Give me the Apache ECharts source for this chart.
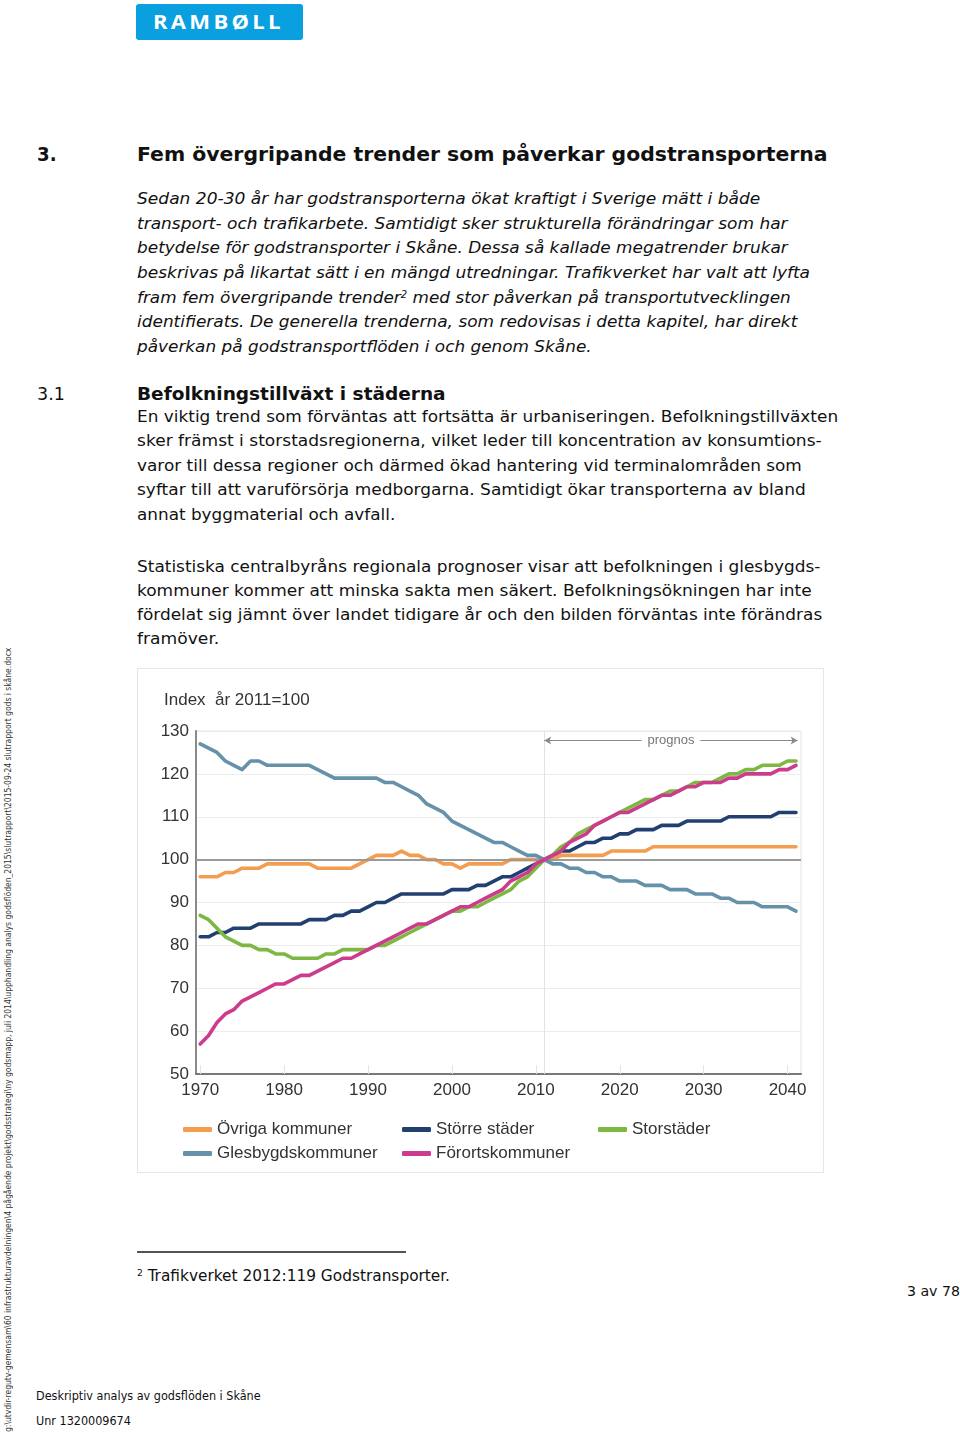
<!DOCTYPE html>
<html><head><meta charset="utf-8">
<script src="https://cdn.jsdelivr.net/npm/echarts@6/dist/echarts.min.js"></script>
<style>
html,body{margin:0;padding:0;background:#fff;}
body{width:960px;height:1435px;position:relative;overflow:hidden;font-family:"DejaVu Sans",Verdana,sans-serif;color:#111;}
.ln{position:absolute;white-space:nowrap;line-height:1;transform-origin:0 0;}
.b{font-weight:bold;}
.i{font-style:italic;}
.logo{position:absolute;left:136px;top:4px;width:167px;height:36px;background:#0a9fdf;border-radius:3px;}
.logo span{position:absolute;left:17px;top:8px;color:#fff;font-family:"Open Sans","DejaVu Sans",sans-serif;font-weight:700;font-size:20px;letter-spacing:3px;line-height:1;white-space:nowrap;transform-origin:0 0;}
#box{position:absolute;left:137px;top:668px;width:687px;height:505px;border:1px solid #e6e6e6;box-sizing:border-box;}
#chart{position:absolute;left:137px;top:668px;width:687px;height:505px;}
.rule{position:absolute;left:137px;top:1251px;width:269px;height:2px;background:#555;}
.vert{position:absolute;left:2px;top:1432px;transform-origin:0 0;transform:rotate(-90deg);}
.vert span{display:block;white-space:nowrap;font-size:9px;line-height:12px;color:#333;transform-origin:0 0;font-family:"DejaVu Sans Condensed","DejaVu Sans",sans-serif;}
.cond{font-family:"DejaVu Sans Condensed","DejaVu Sans",sans-serif;font-stretch:condensed;}
</style></head><body>

<div class="logo"><span data-w="131">RAMBØLL</span></div>

<div class="ln b" style="left:37px;top:144px;font-size:20px" data-w="20">3.</div>
<div class="ln b" style="left:137px;top:144px;font-size:20px" data-w="691">Fem övergripande trender som påverkar godstransporterna</div>

<div class="ln i" style="left:137px;top:191px;font-size:16.5px" data-w="623">Sedan 20-30 år har godstransporterna ökat kraftigt i Sverige mätt i både</div>
<div class="ln i" style="left:137px;top:216px;font-size:16.5px" data-w="651">transport- och trafikarbete. Samtidigt sker strukturella förändringar som har</div>
<div class="ln i" style="left:137px;top:240px;font-size:16.5px" data-w="651">betydelse för godstransporter i Skåne. Dessa så kallade megatrender brukar</div>
<div class="ln i" style="left:137px;top:265px;font-size:16.5px" data-w="673">beskrivas på likartat sätt i en mängd utredningar. Trafikverket har valt att lyfta</div>
<div class="ln i" style="left:137px;top:290px;font-size:16.5px" data-w="654">fram fem övergripande trender<sup style="font-size:0.6em;vertical-align:0.55em;line-height:0">2</sup> med stor påverkan på transportutvecklingen</div>
<div class="ln i" style="left:137px;top:314px;font-size:16.5px" data-w="660">identifierats. De generella trenderna, som redovisas i detta kapitel, har direkt</div>
<div class="ln i" style="left:137px;top:339px;font-size:16.5px" data-w="455">påverkan på godstransportflöden i och genom Skåne.</div>

<div class="ln" style="left:37px;top:386px;font-size:17.5px" data-w="28">3.1</div>
<div class="ln b" style="left:137px;top:386px;font-size:17.5px" data-w="309">Befolkningstillväxt i städerna</div>

<div class="ln" style="left:137px;top:409px;font-size:16.5px" data-w="701">En viktig trend som förväntas att fortsätta är urbaniseringen. Befolkningstillväxten</div>
<div class="ln" style="left:137px;top:433px;font-size:16.5px" data-w="685">sker främst i storstadsregionerna, vilket leder till koncentration av konsumtions-</div>
<div class="ln" style="left:137px;top:458px;font-size:16.5px" data-w="665">varor till dessa regioner och därmed ökad hantering vid terminalområden som</div>
<div class="ln" style="left:137px;top:482px;font-size:16.5px" data-w="669">syftar till att varuförsörja medborgarna. Samtidigt ökar transporterna av bland</div>
<div class="ln" style="left:137px;top:507px;font-size:16.5px" data-w="258">annat byggmaterial och avfall.</div>

<div class="ln" style="left:137px;top:559px;font-size:16.5px" data-w="683">Statistiska centralbyråns regionala prognoser visar att befolkningen i glesbygds-</div>
<div class="ln" style="left:137px;top:583px;font-size:16.5px" data-w="675">kommuner kommer att minska sakta men säkert. Befolkningsökningen har inte</div>
<div class="ln" style="left:137px;top:607px;font-size:16.5px" data-w="685">fördelat sig jämnt över landet tidigare år och den bilden förväntas inte förändras</div>
<div class="ln" style="left:137px;top:631px;font-size:16.5px" data-w="82">framöver.</div>

<div id="box"></div>
<div id="chart"></div>

<div class="rule"></div>
<div class="ln cond" style="left:137px;top:1269px;font-size:15px" data-w="313"><sup style="font-size:0.6em;vertical-align:0.6em;line-height:0">2</sup> Trafikverket 2012:119 Godstransporter.</div>
<div class="ln cond" style="left:907px;top:1284px;font-size:14.5px" data-w="53">3 av 78</div>
<div class="ln cond" style="left:36px;top:1389px;font-size:13px" data-w="225">Deskriptiv analys av godsflöden i Skåne</div>
<div class="ln cond" style="left:36px;top:1414px;font-size:13px" data-w="95">Unr 1320009674</div>

<div class="vert"><span data-w="784">g:\utvdir-regutv-gemensam\60 infrastrukturavdelningen\4 pågående projekt\godsstrategi\ny godsmapp, juli 2014\upphandling analys godsflöden_2015\slutrapport\2015-09-24 slutrapport gods i skåne.docx</span></div>

<script>
// ---- chart data ----
const years = [
  1970,1971,1972,1973,1974,1975,1976,1977,1978,1979,
  1980,1981,1982,1983,1984,1985,1986,1987,1988,1989,
  1990,1991,1992,1993,1994,1995,1996,1997,1998,1999,
  2000,2001,2002,2003,2004,2005,2006,2007,2008,2009,
  2010,2011,2012,2013,2014,2015,2016,2017,2018,2019,
  2020,2021,2022,2023,2024,2025,2026,2027,2028,2029,
  2030,2031,2032,2033,2034,2035,2036,2037,2038,2039,
  2040,2041
];
const xTickLabels = [1970,1980,1990,2000,2010,2020,2030,2040];
const seriesNames = ['Övriga kommuner','Större städer','Storstäder','Glesbygdskommuner','Förortskommuner'];
const ovrigaKommuner = [
  96,96,96,97,97,98,98,98,99,99,
  99,99,99,99,98,98,98,98,98,99,
  100,101,101,101,102,101,101,100,100,99,
  99,98,99,99,99,99,99,100,100,100,
  100,100,100,101,101,101,101,101,101,102,
  102,102,102,102,103,103,103,103,103,103,
  103,103,103,103,103,103,103,103,103,103,
  103,103
];
const storreStader = [
  82,82,83,83,84,84,84,85,85,85,
  85,85,85,86,86,86,87,87,88,88,
  89,90,90,91,92,92,92,92,92,92,
  93,93,93,94,94,95,96,96,97,98,
  99,100,101,102,102,103,104,104,105,105,
  106,106,107,107,107,108,108,108,109,109,
  109,109,109,110,110,110,110,110,110,111,
  111,111
];
const storstader = [
  87,86,84,82,81,80,80,79,79,78,
  78,77,77,77,77,78,78,79,79,79,
  79,80,80,81,82,83,84,85,86,87,
  88,88,89,89,90,91,92,93,95,96,
  98,100,101,103,104,106,107,108,109,110,
  111,112,113,114,114,115,116,116,117,118,
  118,118,119,120,120,121,121,122,122,122,
  123,123
];
const glesbygdskommuner = [
  127,126,125,123,122,121,123,123,122,122,
  122,122,122,122,121,120,119,119,119,119,
  119,119,118,118,117,116,115,113,112,111,
  109,108,107,106,105,104,104,103,102,101,
  101,100,99,99,98,98,97,97,96,96,
  95,95,95,94,94,94,93,93,93,92,
  92,92,91,91,90,90,90,89,89,89,
  89,88
];
const fororts = [
  57,59,62,64,65,67,68,69,70,71,
  71,72,73,73,74,75,76,77,77,78,
  79,80,81,82,83,84,85,85,86,87,
  88,89,89,90,91,92,93,95,96,97,
  99,100,101,102,104,105,106,108,109,110,
  111,111,112,113,114,115,115,116,117,117,
  118,118,118,119,119,120,120,120,120,121,
  121,122
];
const yTitle = 'Index  år 2011=100';
const prognosLabel = 'prognos';
const prognosStart = 2011;

// ---- styles ----
const colors = ['#f39d4f','#213f6f','#7db843','#6591a9','#cd3b8d'];
const font = '"Liberation Sans", Arial, sans-serif';
const values = [ovrigaKommuner, storreStader, storstader, glesbygdskommuner, fororts];

const series = seriesNames.map((name, k) => ({
  name, type: 'line', showSymbol: false, symbol: 'none',
  data: years.map((y, i) => [y, values[k][i]]),
  lineStyle: { width: 3.6, color: colors[k], cap: 'round', join: 'round' },
  itemStyle: { color: colors[k] },
  z: 3 + k
}));

const arrowStyle = { color: '#8a8a8a', width: 1, type: 'solid' };
series[0].markLine = {
  silent: true, symbol: 'none', animation: false,
  label: { show: false },
  data: [
    { yAxis: 100, lineStyle: { color: '#9a9a9a', width: 2, type: 'solid' } },
    { xAxis: prognosStart, lineStyle: { color: '#e2e2e2', width: 1, type: 'solid' } },
    [ { coord: [prognosStart, 127.8], symbol: 'arrow', symbolSize: [6, 7], lineStyle: arrowStyle },
      { coord: [2022.6, 127.8], symbol: 'none' } ],
    [ { coord: [2029.6, 127.8], symbol: 'none', lineStyle: arrowStyle },
      { coord: [2041.2, 127.8], symbol: 'arrow', symbolSize: [6, 7] } ]
  ]
};
series[0].markPoint = {
  silent: true, animation: false,
  data: [{ coord: [2026.1, 127.8], symbol: 'circle', symbolSize: 1,
    itemStyle: { color: 'rgba(0,0,0,0)' },
    label: { show: true, formatter: prognosLabel, position: 'inside', color: '#777', fontSize: 13, fontFamily: font } }]
};

const legendCommon = {
  orient: 'vertical', icon: 'roundRect', itemWidth: 29, itemHeight: 5, itemGap: 7,
  top: 448, selectedMode: false,
  textStyle: { fontSize: 17, color: '#333', fontFamily: font }
};

const chart = echarts.init(document.getElementById('chart'));
chart.setOption({
  animation: false,
  textStyle: { fontFamily: font },
  title: { text: yTitle, left: 22, top: 19, textStyle: { fontSize: 17, fontWeight: 'normal', color: '#333', fontFamily: font } },
  grid: { left: 59, right: 23, top: 63, bottom: 99, show: true, borderColor: '#e2e2e2', borderWidth: 1, containLabel: false },
  xAxis: {
    type: 'value', min: 1969.5, max: 2041.6,
    axisLine: { lineStyle: { color: '#7a7a7a', width: 2 } },
    axisTick: { show: true, inside: true, length: 9, customValues: xTickLabels, lineStyle: { color: '#e4e4e4', width: 1 } },
    axisLabel: { customValues: xTickLabels, fontSize: 17, color: '#333', margin: 8, fontFamily: font, formatter: v => String(v) },
    splitLine: { show: false }
  },
  yAxis: {
    type: 'value', min: 50, max: 130, interval: 10,
    axisLine: { show: true, lineStyle: { color: '#8a8a8a', width: 2 } },
    axisTick: { show: false },
    axisLabel: { fontSize: 17, color: '#333', margin: 7, fontFamily: font },
    splitLine: { lineStyle: { color: '#ececec', width: 1 } }
  },
  legend: [
    Object.assign({}, legendCommon, { left: 41, data: [seriesNames[0], seriesNames[3]] }),
    Object.assign({}, legendCommon, { left: 260, data: [seriesNames[1], seriesNames[4]] }),
    Object.assign({}, legendCommon, { left: 456, data: [seriesNames[2]] })
  ],
  series
});

// ---- fit text lines to reference widths ----
function fit() {
  document.querySelectorAll('[data-w]').forEach(el => {
    el.style.transform = '';
    const w = el.offsetWidth;
    if (w > 0) el.style.transform = 'scaleX(' + (+el.dataset.w / w) + ')';
  });
}
fit();
if (document.fonts && document.fonts.ready) document.fonts.ready.then(fit);
</script>
</body></html>
